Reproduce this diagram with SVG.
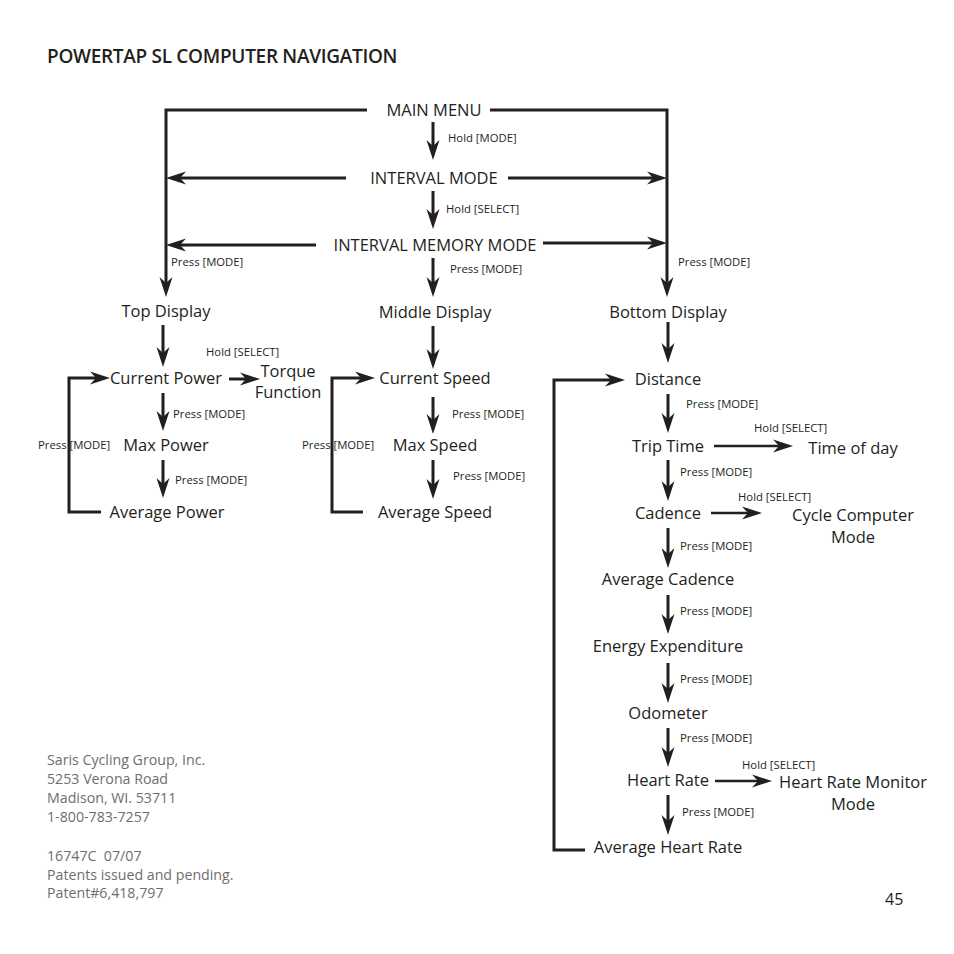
<svg xmlns="http://www.w3.org/2000/svg" width="954" height="954" viewBox="0 0 954 954">
<style>
.n{font-family:"Open Sans","Noto Sans",sans-serif;font-size:16.5px;fill:#231f20;text-anchor:middle}
.s{font-family:"Open Sans","Noto Sans",sans-serif;font-size:11.3px;fill:#231f20}
.f{font-family:"Open Sans","Noto Sans",sans-serif;font-size:14.2px;fill:#6d6e71}
.c{fill:none;stroke:#231f20;stroke-width:3}
.t{fill:none;stroke:#231f20;stroke-width:2.5}
</style>
<defs>
<marker id="ah" markerUnits="userSpaceOnUse" orient="auto" overflow="visible" markerWidth="1" markerHeight="1" refX="0" refY="0">
<path d="M10,0 L-10,-6.5 L-4,0 L-10,6.5 Z" fill="#231f20"/>
</marker>
</defs>
<rect width="954" height="954" fill="#fff"/>
<text x="47" y="63" style="font-family:'Open Sans','Noto Sans',sans-serif;font-size:19px;font-weight:600;fill:#231f20;letter-spacing:-0.3px">POWERTAP SL COMPUTER NAVIGATION</text>

<g id="connectors">
<polyline class="c" points="367,110 166,110 166,287" marker-end="url(#ah)"/>
<polyline class="c" points="490,110 667,110 667,287" marker-end="url(#ah)"/>
<line class="c" x1="433" y1="122" x2="433" y2="150" marker-end="url(#ah)"/>
<line class="c" x1="346" y1="178" x2="176" y2="178" marker-end="url(#ah)"/>
<line class="c" x1="508" y1="178" x2="657" y2="178" marker-end="url(#ah)"/>
<line class="c" x1="433" y1="191" x2="433" y2="219" marker-end="url(#ah)"/>
<line class="c" x1="316" y1="245" x2="176" y2="245" marker-end="url(#ah)"/>
<line class="c" x1="543" y1="243" x2="657" y2="243" marker-end="url(#ah)"/>
<line class="c" x1="433" y1="258" x2="433" y2="287" marker-end="url(#ah)"/>

<line class="c" x1="163" y1="325" x2="163" y2="357" marker-end="url(#ah)"/>
<line class="c" x1="433" y1="326" x2="433" y2="359" marker-end="url(#ah)"/>
<line class="c" x1="668" y1="322" x2="668" y2="353" marker-end="url(#ah)"/>

<polyline class="c" points="101,512 69,512 69,378 100,378" marker-end="url(#ah)"/>
<line class="c" x1="229" y1="379" x2="250" y2="379" marker-end="url(#ah)"/>
<line class="c" x1="163" y1="393" x2="163" y2="421" marker-end="url(#ah)"/>
<line class="c" x1="163" y1="460" x2="163" y2="488" marker-end="url(#ah)"/>

<polyline class="c" points="363,512 332,512 332,378 365,378" marker-end="url(#ah)"/>
<line class="c" x1="433" y1="397" x2="433" y2="424" marker-end="url(#ah)"/>
<line class="c" x1="433" y1="460" x2="433" y2="489" marker-end="url(#ah)"/>

<polyline class="c" points="585,850 554,850 554,380 615,380" marker-end="url(#ah)"/>
<line class="c" x1="668" y1="394" x2="668" y2="423" marker-end="url(#ah)"/>
<line class="t" x1="714" y1="446" x2="783" y2="446" marker-end="url(#ah)"/>
<line class="c" x1="668" y1="460" x2="668" y2="491" marker-end="url(#ah)"/>
<line class="t" x1="711" y1="513" x2="752" y2="513" marker-end="url(#ah)"/>
<line class="c" x1="668" y1="528" x2="668" y2="558" marker-end="url(#ah)"/>
<line class="c" x1="668" y1="595" x2="668" y2="624" marker-end="url(#ah)"/>
<line class="c" x1="668" y1="663" x2="668" y2="693" marker-end="url(#ah)"/>
<line class="c" x1="668" y1="728" x2="668" y2="757" marker-end="url(#ah)"/>
<line class="t" x1="715" y1="781" x2="762" y2="781" marker-end="url(#ah)"/>
<line class="c" x1="668" y1="795" x2="668" y2="825" marker-end="url(#ah)"/>

<text class="s" x="448" y="142">Hold [MODE]</text>
<text class="s" x="446" y="213">Hold [SELECT]</text>
<text class="s" x="450" y="273">Press [MODE]</text>
<text class="s" x="171" y="266">Press [MODE]</text>
<text class="s" x="678" y="266">Press [MODE]</text>
<text class="s" x="206" y="356">Hold [SELECT]</text>
<text class="s" x="173" y="418">Press [MODE]</text>
<text class="s" x="38" y="449">Press [MODE]</text>
<text class="s" x="175" y="484">Press [MODE]</text>
<text class="s" x="452" y="418">Press [MODE]</text>
<text class="s" x="302" y="449">Press [MODE]</text>
<text class="s" x="453" y="480">Press [MODE]</text>
<text class="s" x="686" y="408">Press [MODE]</text>
<text class="s" x="754" y="432">Hold [SELECT]</text>
<text class="s" x="680" y="476">Press [MODE]</text>
<text class="s" x="738" y="501">Hold [SELECT]</text>
<text class="s" x="680" y="550">Press [MODE]</text>
<text class="s" x="680" y="615">Press [MODE]</text>
<text class="s" x="680" y="683">Press [MODE]</text>
<text class="s" x="680" y="742">Press [MODE]</text>
<text class="s" x="742" y="769">Hold [SELECT]</text>
<text class="s" x="682" y="816">Press [MODE]</text>
</g>

<g id="main-menu"><text class="n" x="434" y="116">MAIN MENU</text></g>
<g id="interval-mode"><text class="n" x="434" y="184">INTERVAL MODE</text></g>
<g id="interval-memory-mode"><text class="n" x="435" y="251">INTERVAL MEMORY MODE</text></g>
<g id="top-display"><text class="n" x="166" y="317">Top Display</text></g>
<g id="middle-display"><text class="n" x="435" y="318">Middle Display</text></g>
<g id="bottom-display"><text class="n" x="668" y="318">Bottom Display</text></g>
<g id="current-power"><text class="n" x="166" y="384">Current Power</text></g>
<g id="torque-function"><text class="n" x="288" y="377">Torque</text><text class="n" x="288" y="398">Function</text></g>
<g id="max-power"><text class="n" x="166" y="451">Max Power</text></g>
<g id="average-power"><text class="n" x="167" y="518">Average Power</text></g>
<g id="current-speed"><text class="n" x="435" y="384">Current Speed</text></g>
<g id="max-speed"><text class="n" x="435" y="451">Max Speed</text></g>
<g id="average-speed"><text class="n" x="435" y="518">Average Speed</text></g>
<g id="distance"><text class="n" x="668" y="385">Distance</text></g>
<g id="trip-time"><text class="n" x="668" y="452">Trip Time</text></g>
<g id="time-of-day"><text class="n" x="853" y="454">Time of day</text></g>
<g id="cadence"><text class="n" x="668" y="519">Cadence</text></g>
<g id="cycle-computer-mode"><text class="n" x="853" y="521">Cycle Computer</text><text class="n" x="853" y="543">Mode</text></g>
<g id="average-cadence"><text class="n" x="668" y="585">Average Cadence</text></g>
<g id="energy-expenditure"><text class="n" x="668" y="652">Energy Expenditure</text></g>
<g id="odometer"><text class="n" x="668" y="719">Odometer</text></g>
<g id="heart-rate"><text class="n" x="668" y="786">Heart Rate</text></g>
<g id="heart-rate-monitor-mode"><text class="n" x="853" y="788">Heart Rate Monitor</text><text class="n" x="853" y="810">Mode</text></g>
<g id="average-heart-rate"><text class="n" x="668" y="853">Average Heart Rate</text></g>

<g id="footer">
<text class="f" x="47" y="765">Saris Cycling Group, Inc.</text>
<text class="f" x="47" y="784">5253 Verona Road</text>
<text class="f" x="47" y="803">Madison, WI. 53711</text>
<text class="f" x="47" y="822">1-800-783-7257</text>
<text class="f" x="47" y="861">16747C&#160; 07/07</text>
<text class="f" x="47" y="880">Patents issued and pending.</text>
<text class="f" x="47" y="898">Patent#6,418,797</text>
<text x="885" y="905" style="font-family:'Open Sans','Noto Sans',sans-serif;font-size:16px;fill:#231f20">45</text>
</g>
</svg>
